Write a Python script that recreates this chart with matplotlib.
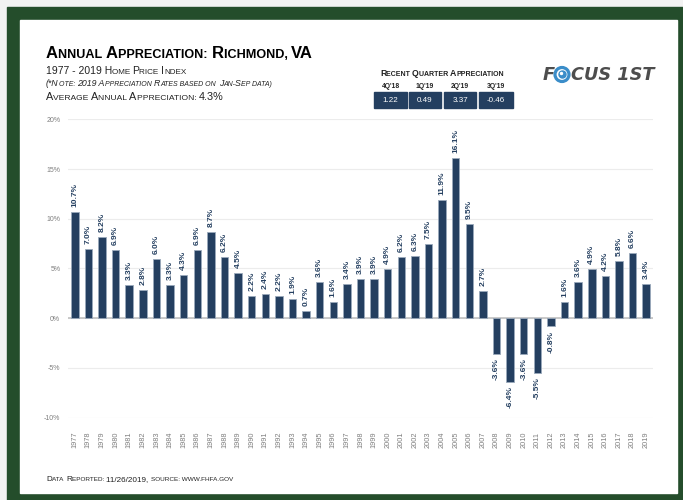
import matplotlib
matplotlib.use("Agg")
import matplotlib.pyplot as plt
from matplotlib.patches import Rectangle, Circle
from matplotlib.font_manager import FontProperties, findfont, get_font

# data
years = [str(y) for y in range(1977, 2020)]
appreciation = [10.7, 7.0, 8.2, 6.9, 3.3, 2.8, 6.0, 3.3, 4.3, 6.9,
                8.7, 6.2, 4.5, 2.2, 2.4, 2.2, 1.9, 0.7, 3.6, 1.6,
                3.4, 3.9, 3.9, 4.9, 6.2, 6.3, 7.5, 11.9, 16.1, 9.5,
                2.7, -3.6, -6.4, -3.6, -5.5, -0.8, 1.6, 3.6, 4.9, 4.2,
                5.8, 6.6, 3.4]
yticks = [-10, -5, 0, 5, 10, 15, 20]
quarters = ["4Q'18", "1Q'19", "2Q'19", "3Q'19"]
quarter_vals = ["1.22", "0.49", "3.37", "-0.46"]

W, H, DPI = 683, 500, 100
NAVY = '#243f60'
GREEN = '#244d2b'

plt.rcParams['font.family'] = ['Liberation Sans', 'DejaVu Sans']

fig = plt.figure(figsize=(W / DPI, H / DPI), dpi=DPI)

# background axes in pixel coordinates (y down)
bg = fig.add_axes([0, 0, 1, 1], zorder=0)
bg.set_xlim(0, W)
bg.set_ylim(H, 0)
bg.axis('off')
bg.add_patch(Rectangle((0, 0), W, H, color='#f2f2f2'))
bg.add_patch(Rectangle((7, 7), W - 7, H - 7, color=GREEN))
bg.add_patch(Rectangle((20, 20), 657, 473, color='white'))


def advance(txt, size, weight='normal', style='normal'):
    # pixel advance width of a string, spaces included
    prop = FontProperties(family='Liberation Sans', weight=weight, style=style)
    font = get_font(findfont(prop))
    font.set_size(size, DPI)
    return sum(font.load_char(ord(c)).linearHoriAdvance / 65536 for c in txt)


def small_caps(x, y, s, size, ratio=0.78, weight='normal', style='normal', **kw):
    # fake small caps: lowercase letters become smaller capitals,
    # spaces and punctuation follow the letter before them
    segs = []
    for ch in s:
        if ch.islower():
            sz = size * ratio
        elif ch.isupper() or ch.isdigit():
            sz = size
        else:
            sz = segs[-1][1] if segs else size
        if segs and segs[-1][1] == sz:
            segs[-1] = (segs[-1][0] + ch.upper(), sz)
        else:
            segs.append((ch.upper(), sz))
    for txt, sz in segs:
        bg.text(x, y, txt, fontsize=sz, va='baseline', ha='left',
                weight=weight, style=style, **kw)
        x += advance(txt, sz, weight, style)
    return x


# header texts
small_caps(46, 58, "Annual Appreciation: Richmond, VA", 12, ratio=0.76,
           weight='bold', color='black')
small_caps(46, 73.5, "1977 - 2019 Home Price Index", 7.5, color='#222222')
small_caps(46, 86, "(*Note: 2019 Appreciation Rates based on Jan-Sep data)", 6.3,
           ratio=0.8, style='italic', color='#222222')
small_caps(46, 100.5, "Average Annual Appreciation: 4.3%", 7.8, color='#222222')
small_caps(46, 481, "Data Reported: 11/26/2019, source: www.fhfa.gov", 5.9,
           color='#222222')

# recent quarter table
small_caps(380, 75.5, "Recent Quarter Appreciation", 6.3, ratio=0.8,
           weight='bold', color='#222222')
box_x = [374, 409, 444, 479]
box_w = [33, 32, 32, 34]
for q, v, bx, bw in zip(quarters, quarter_vals, box_x, box_w):
    bg.add_patch(Rectangle((bx, 92), bw, 16, color=NAVY))
    bg.text(bx + bw / 2, 86, q, fontsize=4.9, weight='bold', color='#222222',
            ha='center', va='center')
    bg.text(bx + bw / 2, 100.3, v, fontsize=5.8, color='white',
            ha='center', va='center')

# logo
logo_kw = dict(fontsize=12.8, weight='bold', style='oblique', color='#4d4d4d',
               family='DejaVu Sans', va='center')
bg.text(543, 74.5, "F", ha='left', **logo_kw)
bg.text(571, 74.5, "CUS 1ST", ha='left', **logo_kw)
bg.add_patch(Circle((562, 74.5), 7.0, facecolor='white', edgecolor='#3a8dc9', lw=2.3))
bg.add_patch(Circle((562.5, 74.5), 3.5, color='#3a8dc9'))
bg.add_patch(Circle((561.5, 73.5), 1.0, color='white'))

# chart
ax = fig.add_axes([68 / W, 1 - 418 / H, 585 / W, 299 / H], zorder=1)
ax.set_facecolor('none')
xs = list(range(len(years)))
ax.bar(xs, appreciation, width=0.55, color=NAVY, edgecolor='#9aa9bb',
       linewidth=0.6, zorder=3)
for i, v in zip(xs, appreciation):
    ax.annotate(f"{v:.1f}%", (i, v), xytext=(0, 3.6 if v > 0 else -3.2),
                textcoords='offset points', rotation=90, ha='center',
                va='bottom' if v > 0 else 'top', fontsize=6, weight='bold',
                color=NAVY, zorder=4)

ax.set_xlim(-0.5, len(years) - 0.5)
ax.set_ylim(-10.05, 20.05)
ax.set_yticks(yticks)
ax.set_yticklabels([f"{t}%" for t in yticks])
ax.set_xticks(xs)
ax.set_xticklabels(years, rotation=90)
ax.tick_params(axis='y', length=0, pad=5.5, labelsize=5, labelcolor='#7f7f7f')
ax.tick_params(axis='x', length=0, pad=10, labelsize=5.3, labelcolor='#7f7f7f')
ax.grid(axis='y', color='#ececec', linewidth=0.8, zorder=0)
ax.axhline(0, color='#c0c0c0', linewidth=1.2, zorder=2)
for sp in ax.spines.values():
    sp.set_visible(False)

fig.savefig('out.png', dpi=DPI)
